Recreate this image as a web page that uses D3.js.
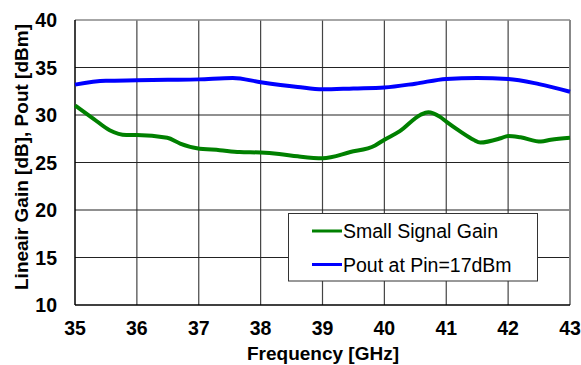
<!DOCTYPE html>
<html lang="en">
<head>
  <meta charset="UTF-8">
  <title>Gain and Pout vs Frequency</title>
  <script src="https://cdn.jsdelivr.net/npm/d3@7"></script>
  <style>
  body { margin: 0; background: #fff; }
  svg text { font-family: "Liberation Sans", Arial, sans-serif; fill: #000; }
  .tick-label { font-weight: bold; font-size: 19.5px; }
  .axis-title { font-weight: bold; font-size: 19px; }
  .legend text { font-size: 19.5px; }
  </style>
</head>
<body>
  <div id="chart"></div>
  <script>
  // Small signal gain [dB]
  const gainFreq = [35.0, 35.3, 35.56, 35.83, 36.0, 36.49, 36.7, 36.97, 37.34, 37.66, 38.0, 38.3, 38.6, 39.0,
    39.45, 39.85, 40.0, 40.25, 40.58, 40.71, 40.9, 41.0, 41.23, 41.44, 41.55, 41.88, 42.0, 42.2, 42.53, 42.69, 43.0];
  const gainValues = [31.0, 29.6, 28.4, 27.9, 27.9, 27.6, 27.0, 26.5, 26.3, 26.1, 26.05, 25.9, 25.65, 25.45,
    26.1, 26.8, 27.4, 28.3, 30.0, 30.3, 29.8, 29.3, 28.25, 27.4, 27.1, 27.55, 27.8, 27.65, 27.2, 27.4, 27.6];
  // Pout at Pin=17dBm [dBm]
  const poutFreq = [35.0, 35.5, 36.0, 36.5, 37.0, 37.55, 38.0, 38.6, 39.0, 39.5, 40.0, 40.5, 41.0, 41.5, 42.0, 42.5, 43.0];
  const poutValues = [33.2, 33.6, 33.65, 33.7, 33.75, 33.9, 33.45, 32.95, 32.7, 32.8, 32.9, 33.3, 33.8, 33.9, 33.8, 33.25, 32.45];

  const xTicks = [35, 36, 37, 38, 39, 40, 41, 42, 43];
  const yTicks = [10, 15, 20, 25, 30, 35, 40];
  const seriesNames = ['Small Signal Gain', 'Pout at Pin=17dBm'];
  const seriesColors = ['#008000', '#0000ff'];

  const width = 581, height = 365;
  const margin = {top: 20, right: 11, bottom: 60, left: 75};

  const svg = d3.select('#chart').append('svg')
    .attr('width', width).attr('height', height);

  const x = d3.scaleLinear().domain([35, 43]).range([margin.left, width - margin.right]);
  const y = d3.scaleLinear().domain([10, 40]).range([height - margin.bottom, margin.top]);

  // grid
  svg.append('g').selectAll('line.vgrid')
    .data(xTicks.slice(1, -1)).join('line')
      .attr('x1', d => x(d)).attr('x2', d => x(d))
      .attr('y1', y(10)).attr('y2', y(40))
      .attr('stroke', '#444').attr('stroke-width', 1.2);
  svg.append('g').selectAll('line.hgrid')
    .data(yTicks.slice(1, -1)).join('line')
      .attr('x1', x(35)).attr('x2', x(43))
      .attr('y1', d => y(d)).attr('y2', d => y(d))
      .attr('stroke', '#222').attr('stroke-width', 1.2);

  // frame: top and right grey, axes black
  svg.append('line')
    .attr('x1', x(35)).attr('x2', x(43)).attr('y1', y(40)).attr('y2', y(40))
    .attr('stroke', '#888').attr('stroke-width', 1.5);
  svg.append('line')
    .attr('x1', x(43)).attr('x2', x(43)).attr('y1', y(40)).attr('y2', y(10))
    .attr('stroke', '#888').attr('stroke-width', 2);
  svg.append('line')
    .attr('x1', x(35)).attr('x2', x(35)).attr('y1', y(40)).attr('y2', y(10))
    .attr('stroke', '#000').attr('stroke-width', 1.5);
  svg.append('line')
    .attr('x1', x(35)).attr('x2', x(43)).attr('y1', y(10)).attr('y2', y(10))
    .attr('stroke', '#000').attr('stroke-width', 1.5);

  // tick labels
  svg.append('g').selectAll('text')
    .data(yTicks).join('text')
      .attr('class', 'tick-label')
      .attr('x', margin.left - 18)
      .attr('y', d => y(d) + 7)
      .attr('text-anchor', 'end')
      .text(d => d);
  svg.append('g').selectAll('text')
    .data(xTicks).join('text')
      .attr('class', 'tick-label')
      .attr('x', d => x(d))
      .attr('y', height - margin.bottom + 30)
      .attr('text-anchor', 'middle')
      .text(d => d);

  // axis titles
  svg.append('text')
    .attr('class', 'axis-title')
    .attr('x', 323).attr('y', 360)
    .attr('text-anchor', 'middle')
    .text('Frequency [GHz]');
  svg.append('text')
    .attr('class', 'axis-title')
    .attr('transform', 'translate(28,157) rotate(-90)')
    .attr('text-anchor', 'middle')
    .text('Lineair Gain [dB], Pout [dBm]');

  // legend
  const legend = svg.append('g').attr('class', 'legend');
  legend.append('rect')
    .attr('x', 288.5).attr('y', 213.5).attr('width', 249).attr('height', 67.5)
    .attr('fill', '#fff').attr('stroke', '#333').attr('stroke-width', 1);
  seriesNames.forEach((name, i) => {
    const ly = 231 + i * 33.5;
    legend.append('line')
      .attr('x1', 312).attr('x2', 342).attr('y1', ly).attr('y2', ly)
      .attr('stroke', seriesColors[i]).attr('stroke-width', 3);
    legend.append('text')
      .attr('x', 343).attr('y', ly + 7)
      .text(name);
  });

  // curves
  const line = d3.line()
    .x(d => x(d[0])).y(d => y(d[1]))
    .curve(d3.curveMonotoneX);
  const series = [d3.zip(gainFreq, gainValues), d3.zip(poutFreq, poutValues)];
  series.forEach((pts, i) => {
    svg.append('path')
      .datum(pts)
      .attr('d', line)
      .attr('fill', 'none')
      .attr('stroke', seriesColors[i])
      .attr('stroke-width', 4)
      .attr('stroke-linejoin', 'round');
  });
  </script>
</body>
</html>
